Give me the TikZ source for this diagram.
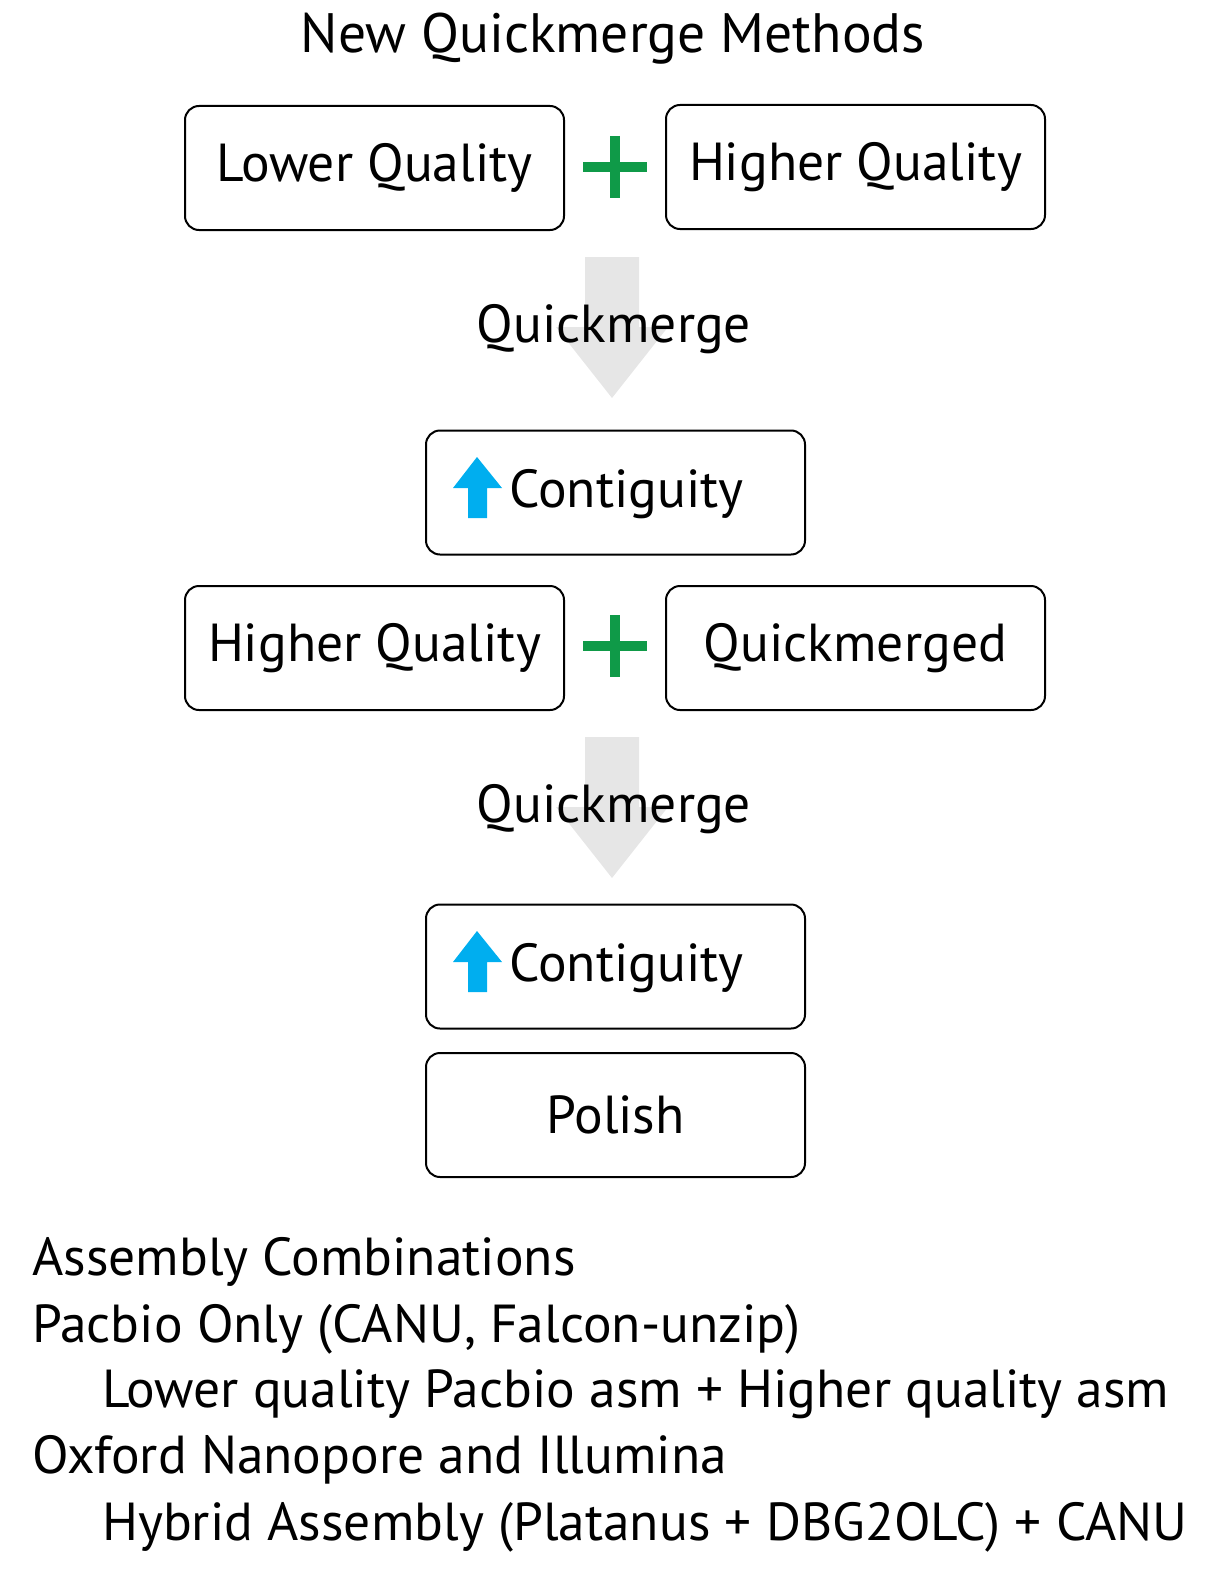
\documentclass[tikz,border=0pt]{standalone}
\usepackage{fontspec}
\setmainfont{PT Sans}
\definecolor{quickmergeGreen}{HTML}{0f9a48}
\definecolor{quickmergeBlue}{HTML}{00aeef}
\definecolor{quickmergeGray}{HTML}{e6e6e6}
\definecolor{quickmergeFg}{HTML}{000000}
\tikzset{
    stepbox/.style={draw=quickmergeFg, line width=2, rounded corners=14, minimum width=379, minimum height=124, font=\fontsize{53.5}{60}\selectfont},
    label/.style={font=\fontsize{53.5}{60}\selectfont, inner sep=0},
    listline/.style={font=\fontsize{53.5}{60}\selectfont, inner sep=0, anchor=base west}
}
\begin{document}
\begin{tikzpicture}[x=1pt, y=-1pt]
    \useasboundingbox (0, 0) rectangle (1224, 1584);
    \node[label, font=\fontsize{55.5}{60}\selectfont] (title) at (613, 39) {New Quickmerge Methods};

    % first merge
    \node[stepbox] (lowerQ) at (374.5, 168) {Lower Quality};
    \node[stepbox] (higherQ) at (855.5, 167) {Higher Quality};
    \coordinate (plusA) at (615, 167);
    \coordinate (mergeA) at (612, 257);
    \node[stepbox] (contigA) at (615.5, 492.5) {};
    \node[label] (contigAText) at ([shift={(11, 2)}]contigA.center) {Contiguity};

    % second merge
    \node[stepbox] (higherQB) at (374.5, 648) {Higher Quality};
    \node[stepbox] (merged) at (855.5, 648) {Quickmerged};
    \coordinate (plusB) at (615, 646);
    \coordinate (mergeB) at (612, 737);
    \node[stepbox] (contigB) at (615.5, 966.5) {};
    \node[label] (contigBText) at ([shift={(11, 2)}]contigB.center) {Contiguity};
    \node[stepbox] (polish) at (615.5, 1115) {Polish};

    \foreach \p in {plusA, plusB}
        \draw[quickmergeGreen, line width=10] (\p) ++(-32, 0) -- ++(64, 0) (\p) ++(0, -31) -- ++(0, 62);
    \foreach \m/\n in {mergeA/quickA, mergeB/quickB} {
        \fill[quickmergeGray, shift={(\m)}] (-27, 0) -- (27, 0) -- (27, 70) -- (56, 70) -- (0, 141) -- (-56, 70) -- (-27, 70) -- cycle;
        \node[label] (\n) at ([shift={(2, 72)}]\m) {Quickmerge};
    }
    \foreach \c in {contigA, contigB}
        \fill[quickmergeBlue, shift={(\c.center)}] (-138.5, -35.5) -- (-113.5, -4.5) -- (-128.5, -4.5) -- (-128.5, 25.5) -- (-147.5, 25.5) -- (-147.5, -4.5) -- (-162.5, -4.5) -- cycle;

    % assembly list
    \node[listline] (combos) at (32, 1275) {Assembly Combinations};
    \node[listline] (pacbio) at (32, 1342) {Pacbio Only (CANU, Falcon-unzip)};
    \node[listline] (pacbioAsm) at (102, 1407) {Lower quality Pacbio asm + Higher quality asm};
    \node[listline] (oxford) at (32, 1473) {Oxford Nanopore and Illumina};
    \node[listline] (hybrid) at (102, 1540) {Hybrid Assembly (Platanus + DBG2OLC) + CANU};
\end{tikzpicture}
\end{document}
